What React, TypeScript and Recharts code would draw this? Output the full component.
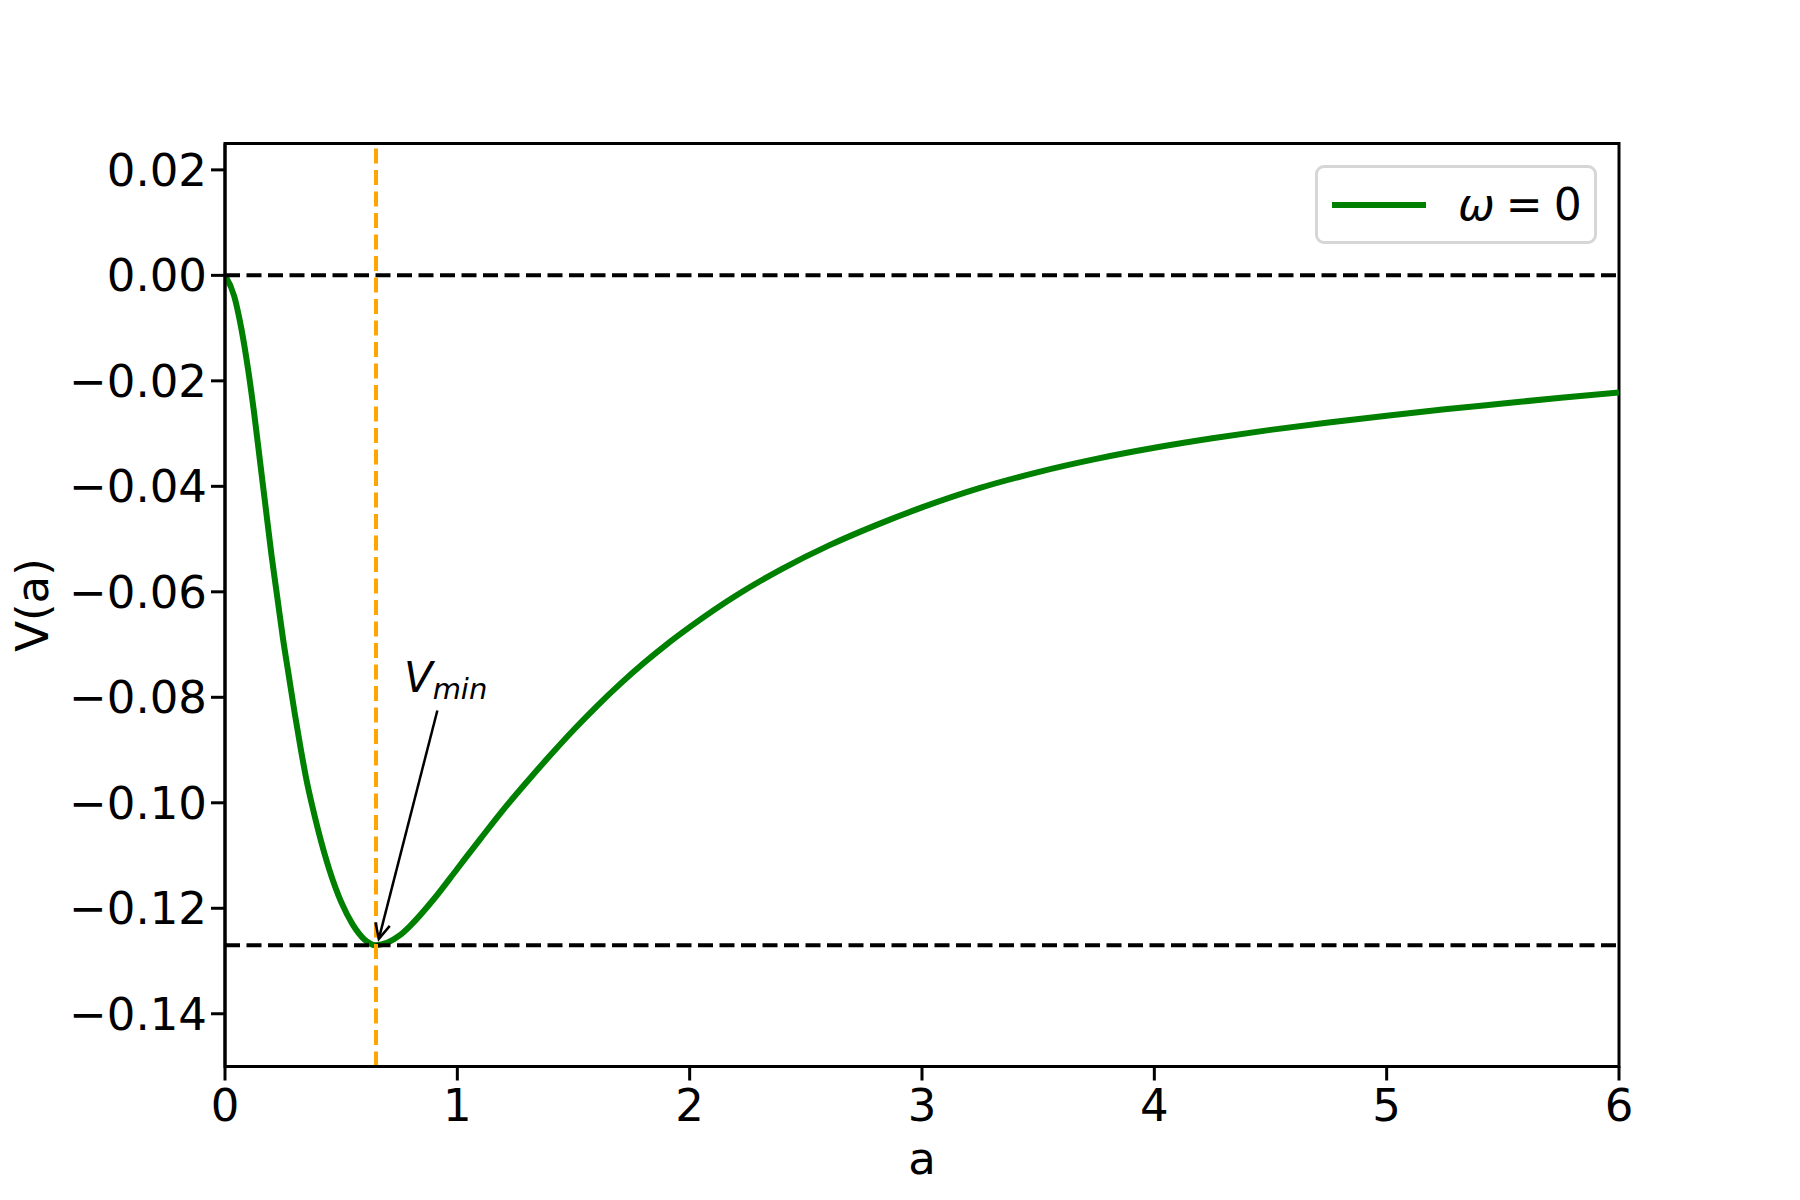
import { LineChart, Line, XAxis, YAxis, ReferenceLine, ReferenceArea, ReferenceDot } from "recharts";

const aValues = [
  0, 0.04, 0.07, 0.1, 0.125, 0.15, 0.175, 0.2, 0.225, 0.25, 0.275, 0.3, 0.325, 0.35, 0.375, 0.4, 0.45, 0.5, 0.55,
  0.6, 0.65, 0.7, 0.75, 0.8, 0.9, 1.0, 1.1, 1.2, 1.3, 1.4, 1.5, 1.6, 1.7, 1.8, 1.9, 2.0, 2.2, 2.4, 2.6, 2.8, 3.0,
  3.25, 3.5, 3.75, 4.0, 4.25, 4.5, 4.75, 5.0, 5.25, 5.5, 5.75, 6.0,
];
const vValues = [
  0, -0.004, -0.01, -0.018, -0.026, -0.035, -0.044, -0.053, -0.061, -0.069, -0.076, -0.083, -0.0895, -0.0955,
  -0.1005, -0.105, -0.1128, -0.1188, -0.1231, -0.1259, -0.127, -0.1265, -0.1252, -0.1232, -0.1182, -0.1125,
  -0.1068, -0.1012, -0.096, -0.091, -0.0862, -0.0817, -0.0775, -0.0736, -0.07, -0.0667, -0.0607, -0.0556, -0.0512,
  -0.0474, -0.044, -0.0403, -0.0373, -0.0348, -0.0327, -0.0309, -0.0293, -0.0279, -0.0266, -0.0254, -0.0243,
  -0.0232, -0.0222,
];
const xTicks = [0, 1, 2, 3, 4, 5, 6];
const yTicks = [0.02, 0, -0.02, -0.04, -0.06, -0.08, -0.1, -0.12, -0.14];

const aMin = 0.65;
const vMin = -0.127;
// annotation: text position and arrow (tail -> head) in data units
const labelPos = { x: 0.77, y: -0.079 };
const arrowTail = { x: 0.914, y: -0.0825 };
const arrowHead = { x: 0.662, y: -0.1258 };

const data = aValues.map((a, i) => ({ a, v: vValues[i] }));

const FONT = "DejaVu Sans";
const FS = 45;

const fmt = (v: number) => {
  const s = Math.abs(v).toFixed(2);
  return v < -1e-9 ? "\u2212" + s : s;
};

function Arrow(props: any) {
  const { x1, y1, x2, y2 } = props;
  const ang = Math.atan2(y2 - y1, x2 - x1);
  const len = 17;
  const spread = 0.45;
  const p1x = x2 - len * Math.cos(ang - spread);
  const p1y = y2 - len * Math.sin(ang - spread);
  const p2x = x2 - len * Math.cos(ang + spread);
  const p2y = y2 - len * Math.sin(ang + spread);
  return (
    <g>
      <line x1={x1} y1={y1} x2={x2} y2={y2} stroke="#000" strokeWidth={2.5} />
      <path d={`M${p1x},${p1y} L${x2},${y2} L${p2x},${p2y}`} fill="none" stroke="#000" strokeWidth={2.5} />
    </g>
  );
}

function VminLabel(props: any) {
  const { cx, cy } = props;
  return (
    <text x={cx} y={cy} fontFamily={FONT} fontSize={42} fontStyle="italic" fill="#000">
      V
      <tspan fontSize={29} dy={7}>
        min
      </tspan>
    </text>
  );
}

export default function App() {
  return (
    <div style={{ position: "absolute", left: 0, top: 0, width: 1800, height: 1200, background: "#fff" }}>
      <LineChart
        width={1800}
        height={1200}
        data={data}
        margin={{ top: 143.5, right: 181, bottom: 0, left: 0 }}
        style={{ fontFamily: FONT }}
      >
        <XAxis
          dataKey="a"
          type="number"
          domain={[0, 6]}
          ticks={xTicks}
          height={133.5}
          tickSize={14}
          tickMargin={9}
          axisLine={{ stroke: "#000", strokeWidth: 3 }}
          tickLine={{ stroke: "#000", strokeWidth: 3 }}
          tick={{ fill: "#000", fontSize: FS, fontFamily: FONT }}
          allowDataOverflow
          label={(p: any) => {
            const vb = p.viewBox;
            return (
              <text x={vb.x + vb.width / 2} y={1174} textAnchor="middle" fontFamily={FONT} fontSize={FS} fill="#000">
                a
              </text>
            );
          }}
        />
        <YAxis
          type="number"
          domain={[-0.15, 0.025]}
          ticks={yTicks}
          width={225}
          tickSize={14}
          tickMargin={4}
          tickFormatter={fmt}
          axisLine={{ stroke: "#000", strokeWidth: 3 }}
          tickLine={{ stroke: "#000", strokeWidth: 3 }}
          tick={{ fill: "#000", fontSize: FS, fontFamily: FONT }}
          allowDataOverflow
          label={(p: any) => {
            const vb = p.viewBox;
            const cy = vb.y + vb.height / 2;
            return (
              <text
                x={32}
                y={cy}
                transform={`rotate(-90, 32, ${cy})`}
                textAnchor="middle"
                dominantBaseline="central"
                fontFamily={FONT}
                fontSize={FS}
                fill="#000"
              >
                V(a)
              </text>
            );
          }}
        />
        <ReferenceArea x1={0} x2={6} y1={-0.15} y2={0.025} fill="none" stroke="#000" strokeWidth={3} />
        <Line
          type="monotone"
          dataKey="v"
          stroke="#008000"
          strokeWidth={6}
          dot={false}
          isAnimationActive={false}
        />
        <ReferenceLine y={0} stroke="#000" strokeWidth={4} strokeDasharray="15 6.5" />
        <ReferenceLine y={vMin} stroke="#000" strokeWidth={4} strokeDasharray="15 6.5" />
        <ReferenceLine x={aMin} stroke="#FFA500" strokeWidth={4} strokeDasharray="15 6.5" />
        <ReferenceLine
          segment={[arrowTail, arrowHead]}
          stroke="#000"
          shape={(p: any) => <Arrow {...p} />}
        />
        <ReferenceDot x={labelPos.x} y={labelPos.y} r={0} shape={(p: any) => <VminLabel {...p} />} />
      </LineChart>
      <div
        style={{
          position: "absolute",
          left: 1315,
          top: 165,
          width: 282,
          height: 79,
          border: "3px solid #d6d6d6",
          borderRadius: 9,
          background: "#fff",
          boxSizing: "border-box",
          fontFamily: FONT,
          fontSize: 44,
          display: "flex",
          alignItems: "center",
        }}
      >
        <span style={{ display: "inline-block", marginLeft: 14, width: 94, height: 6, background: "#008000" }} />
        <span style={{ marginLeft: 32, whiteSpace: "pre" }}>
          <i>ω</i>{"\u2005=\u20050"}
        </span>
      </div>
    </div>
  );
}
